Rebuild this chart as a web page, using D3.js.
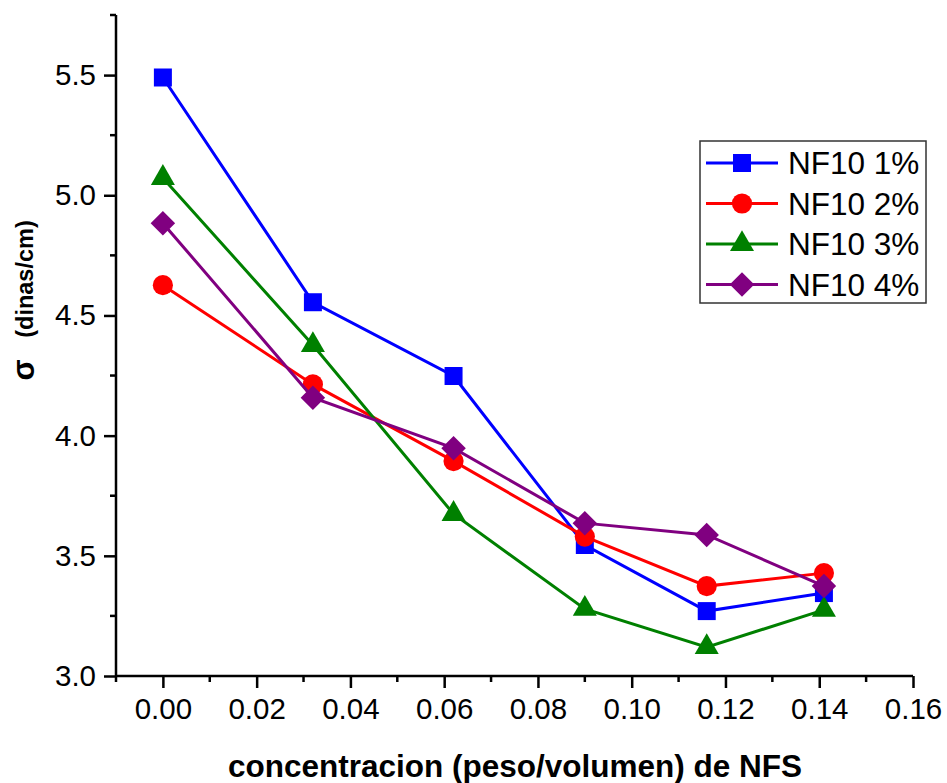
<!DOCTYPE html>
<html>
<head>
<meta charset="utf-8">
<script src="https://cdn.jsdelivr.net/npm/d3@7"></script>
<style>
  body { margin: 0; background: #fff; }
  text { font-family: "Liberation Sans", Arial, sans-serif; }
</style>
</head>
<body>
<script>
var width = 947;
var height = 783;

// data
var conc = [0.0, 0.032, 0.062, 0.090, 0.116, 0.141];
var nf1 = [5.49, 4.555, 4.248, 3.545, 3.27, 3.345];
var nf2 = [4.626, 4.213, 3.894, 3.58, 3.374, 3.428];
var nf3 = [5.072, 4.377, 3.674, 3.279, 3.12, 3.275];
var nf4 = [4.884, 4.158, 3.948, 3.636, 3.587, 3.374];
var seriesNames = ["NF10 1%", "NF10 2%", "NF10 3%", "NF10 4%"];
var seriesColors = ["#0000ff", "#ff0000", "#008000", "#800080"];
var xTicks = [0, 0.02, 0.04, 0.06, 0.08, 0.10, 0.12, 0.14, 0.16];
var yTicks = [3.0, 3.5, 4.0, 4.5, 5.0, 5.5];

var seriesValues = [nf1, nf2, nf3, nf4];

var x = d3.scaleLinear().domain([-0.01, 0.16]).range([116, 913]);
var y = d3.scaleLinear().domain([3.0, 5.75]).range([676, 15]);

var svg = d3.select("body").append("svg")
    .attr("width", width)
    .attr("height", height);

// symbols
var shapes = [
  d3.symbol().type(d3.symbolSquare).size(324),
  d3.symbol().type(d3.symbolCircle).size(320),
  d3.symbol().type(d3.symbolTriangle).size(250),
  d3.symbol().type(d3.symbolSquare).size(300)
];
var rot = [0, 0, 0, 45];

// axes
var yMinor = d3.range(3.25, 5.76, 0.5);
var xMinor = d3.range(-0.01, 0.155, 0.02);

var yAxis = svg.append("g").attr("transform", "translate(116,0)");
yAxis.call(d3.axisLeft(y).tickValues(yTicks).tickSize(12).tickPadding(8)
    .tickFormat(d3.format(".1f")));
yAxis.selectAll(".minor")
    .data(yMinor)
  .enter().append("line")
    .attr("class", "minor")
    .attr("x1", -6).attr("x2", 0)
    .attr("y1", function (d) { return y(d); })
    .attr("y2", function (d) { return y(d); });

var xAxis = svg.append("g").attr("transform", "translate(0,676)");
xAxis.call(d3.axisBottom(x).tickValues(xTicks).tickSize(12).tickPadding(10)
    .tickFormat(d3.format(".2f")));
xAxis.selectAll(".minor")
    .data(xMinor)
  .enter().append("line")
    .attr("class", "minor")
    .attr("y1", 0).attr("y2", 6)
    .attr("x1", function (d) { return x(d); })
    .attr("x2", function (d) { return x(d); });

svg.selectAll(".domain").attr("stroke", "#000").attr("stroke-width", 2.5);
yAxis.select(".domain").attr("d", "M0,15V676");
xAxis.select(".domain").attr("d", "M116,0H913");
svg.selectAll(".tick line, .minor").attr("stroke", "#000").attr("stroke-width", 2.5);
svg.selectAll(".tick text").attr("fill", "#000").style("font-size", "29.5px")
    .style("font-family", "'Liberation Sans', Arial, sans-serif");

// axis titles
svg.append("text")
    .attr("x", 515)
    .attr("y", 777)
    .attr("text-anchor", "middle")
    .style("font-size", "31.5px")
    .style("font-weight", "bold")
    .text("concentracion (peso/volumen) de NFS");

svg.append("text")
    .attr("transform", "translate(34,370) rotate(-90)")
    .attr("text-anchor", "middle")
    .style("font-weight", "bold")
    .style("font-size", "31px")
    .text("σ");
svg.append("text")
    .attr("transform", "translate(33,279) rotate(-90)")
    .attr("text-anchor", "middle")
    .style("font-weight", "bold")
    .style("font-size", "23.5px")
    .text("(dinas/cm)");

// series
var line = d3.line()
    .x(function (d, i) { return x(conc[i]); })
    .y(function (d) { return y(d); });

seriesValues.forEach(function (vals, s) {
  var g = svg.append("g").attr("class", "series");
  g.append("path")
      .attr("d", line(vals))
      .attr("fill", "none")
      .attr("stroke", seriesColors[s])
      .attr("stroke-width", 3);
  g.selectAll(".pt")
      .data(vals)
    .enter().append("path")
      .attr("class", "pt")
      .attr("d", shapes[s])
      .attr("transform", function (d, i) {
        return "translate(" + x(conc[i]) + "," + y(d) + ") rotate(" + rot[s] + ")";
      })
      .attr("fill", seriesColors[s]);
});

// legend
var legend = svg.append("g").attr("transform", "translate(700,141)");
legend.append("rect")
    .attr("width", 226).attr("height", 162)
    .attr("fill", "#fff").attr("stroke", "#333").attr("stroke-width", 1.5);
var item = legend.selectAll(".item")
    .data(seriesNames)
  .enter().append("g")
    .attr("transform", function (d, i) { return "translate(0," + (22 + 40.5 * i) + ")"; });
item.append("line")
    .attr("x1", 6).attr("x2", 78)
    .attr("stroke", function (d, i) { return seriesColors[i]; })
    .attr("stroke-width", 3);
item.append("path")
    .attr("d", function (d, i) { return shapes[i](); })
    .attr("transform", function (d, i) { return "translate(42,0) rotate(" + rot[i] + ")"; })
    .attr("fill", function (d, i) { return seriesColors[i]; });
item.append("text")
    .attr("x", 88)
    .attr("dy", "0.36em")
    .style("font-size", "31.5px")
    .text(function (d) { return d; });
</script>
</body>
</html>
